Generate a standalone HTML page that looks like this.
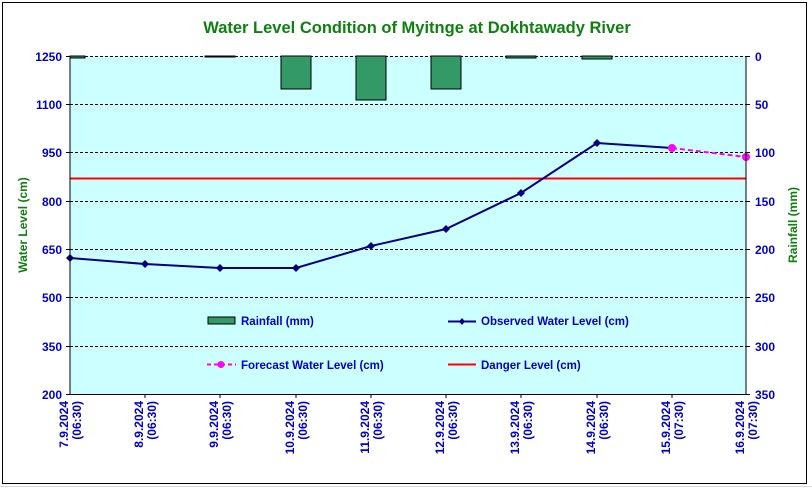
<!DOCTYPE html>
<html><head><meta charset="utf-8"><style>body{margin:0;background:#fff}svg{display:block}text{font-family:"Liberation Sans",Arial,sans-serif;font-weight:bold}</style></head><body>
<svg width="812" height="490" viewBox="0 0 812 490" xmlns="http://www.w3.org/2000/svg">
<g stroke="#d8d8d8" stroke-width="1">
<line x1="0" y1="486.5" x2="812" y2="486.5"/>
</g>
<rect x="2.5" y="2.5" width="804" height="481" fill="#fff" stroke="#000" stroke-width="1"/>
<text x="417" y="33" font-size="16.5" fill="#108010" text-anchor="middle">Water Level Condition of Myitnge at Dokhtawady River</text>
<rect x="70" y="56" width="676" height="338" fill="#ccffff"/>
<g stroke="#000" stroke-dasharray="3,2" stroke-width="1">
<line x1="70" y1="56.5" x2="746" y2="56.5"/>
<line x1="70" y1="104.5" x2="746" y2="104.5"/>
<line x1="70" y1="152.5" x2="746" y2="152.5"/>
<line x1="70" y1="201.5" x2="746" y2="201.5"/>
<line x1="70" y1="249.5" x2="746" y2="249.5"/>
<line x1="70" y1="297.5" x2="746" y2="297.5"/>
<line x1="70" y1="346.5" x2="746" y2="346.5"/>
</g>
<g fill="#339966" stroke="#000" stroke-width="1">
<rect x="70" y="56" width="15" height="2"/>
<rect x="205" y="56" width="30" height="1"/>
<rect x="281" y="56" width="30" height="33"/>
<rect x="356" y="56" width="30" height="44"/>
<rect x="431" y="56" width="30" height="33"/>
<rect x="506" y="56" width="30" height="2"/>
<rect x="582" y="56" width="30" height="3"/>
</g>
<line x1="70" y1="178.5" x2="746" y2="178.5" stroke="#ff0000" stroke-width="2"/>
<polyline points="70,258 145,264 220,268 296,268 371,246 446,229 521,193 597,143 672,148" fill="none" stroke="#000080" stroke-width="2"/>
<g fill="#000080">
<path d="M70,254l4,4-4,4-4-4z"/><path d="M145,260l4,4-4,4-4-4z"/><path d="M220,264l4,4-4,4-4-4z"/><path d="M296,264l4,4-4,4-4-4z"/><path d="M371,242l4,4-4,4-4-4z"/><path d="M446,225l4,4-4,4-4-4z"/><path d="M521,189l4,4-4,4-4-4z"/><path d="M597,139l4,4-4,4-4-4z"/>
</g>
<line x1="672" y1="148" x2="746" y2="157" stroke="#ff00ff" stroke-width="2" stroke-dasharray="5,3"/>
<circle cx="672" cy="148" r="4" fill="#ff00ff"/><circle cx="746" cy="157" r="4" fill="#ff00ff"/>
<line x1="70" y1="56" x2="70" y2="394" stroke="#000"/>
<line x1="746" y1="56" x2="746" y2="394" stroke="#000"/>
<line x1="70" y1="394.5" x2="746" y2="394.5" stroke="#000"/>
<g stroke="#000">
<line x1="66" y1="56.5" x2="70" y2="56.5"/><line x1="66" y1="104.5" x2="70" y2="104.5"/><line x1="66" y1="152.5" x2="70" y2="152.5"/><line x1="66" y1="201.5" x2="70" y2="201.5"/><line x1="66" y1="249.5" x2="70" y2="249.5"/><line x1="66" y1="297.5" x2="70" y2="297.5"/><line x1="66" y1="346.5" x2="70" y2="346.5"/><line x1="66" y1="394.5" x2="70" y2="394.5"/>
<line x1="746" y1="56.5" x2="750" y2="56.5"/><line x1="746" y1="104.5" x2="750" y2="104.5"/><line x1="746" y1="152.5" x2="750" y2="152.5"/><line x1="746" y1="201.5" x2="750" y2="201.5"/><line x1="746" y1="249.5" x2="750" y2="249.5"/><line x1="746" y1="297.5" x2="750" y2="297.5"/><line x1="746" y1="346.5" x2="750" y2="346.5"/><line x1="746" y1="394.5" x2="750" y2="394.5"/>
<line x1="145" y1="394" x2="145" y2="398"/><line x1="220" y1="394" x2="220" y2="398"/><line x1="296" y1="394" x2="296" y2="398"/><line x1="371" y1="394" x2="371" y2="398"/><line x1="446" y1="394" x2="446" y2="398"/><line x1="521" y1="394" x2="521" y2="398"/><line x1="597" y1="394" x2="597" y2="398"/><line x1="672" y1="394" x2="672" y2="398"/>
</g>
<g font-size="12" fill="#0000cc" text-anchor="end">
<text x="62" y="61">1250</text><text x="62" y="109">1100</text><text x="62" y="157">950</text><text x="62" y="206">800</text><text x="62" y="254">650</text><text x="62" y="302">500</text><text x="62" y="351">350</text><text x="62" y="399">200</text>
</g>
<g font-size="12" fill="#0000cc">
<text x="755" y="61">0</text><text x="755" y="109">50</text><text x="755" y="157">100</text><text x="755" y="206">150</text><text x="755" y="254">200</text><text x="755" y="302">250</text><text x="755" y="351">300</text><text x="755" y="399">350</text>
</g>
<text transform="translate(27,225) rotate(-90)" font-size="12" fill="#108010" text-anchor="middle">Water Level (cm)</text>
<text transform="translate(797,225) rotate(-90)" font-size="12" fill="#108010" text-anchor="middle">Rainfall (mm)</text>
<g font-size="12" fill="#0000cc" text-anchor="end">
<g transform="translate(70,401) rotate(-90)"><text x="0" y="-2">7.9.2024</text><text x="0" y="11">(06:30)</text></g>
<g transform="translate(145,401) rotate(-90)"><text x="0" y="-2">8.9.2024</text><text x="0" y="11">(06:30)</text></g>
<g transform="translate(220,401) rotate(-90)"><text x="0" y="-2">9.9.2024</text><text x="0" y="11">(06:30)</text></g>
<g transform="translate(296,401) rotate(-90)"><text x="0" y="-2">10.9.2024</text><text x="0" y="11">(06:30)</text></g>
<g transform="translate(371,401) rotate(-90)"><text x="0" y="-2">11.9.2024</text><text x="0" y="11">(06:30)</text></g>
<g transform="translate(446,401) rotate(-90)"><text x="0" y="-2">12.9.2024</text><text x="0" y="11">(06:30)</text></g>
<g transform="translate(521,401) rotate(-90)"><text x="0" y="-2">13.9.2024</text><text x="0" y="11">(06:30)</text></g>
<g transform="translate(597,401) rotate(-90)"><text x="0" y="-2">14.9.2024</text><text x="0" y="11">(06:30)</text></g>
<g transform="translate(672,401) rotate(-90)"><text x="0" y="-2">15.9.2024</text><text x="0" y="11">(07:30)</text></g>
<g transform="translate(746,401) rotate(-90)"><text x="0" y="-2">16.9.2024</text><text x="0" y="11">(07:30)</text></g>
</g>
<rect x="208" y="317" width="27" height="7" fill="#339966" stroke="#000"/>
<line x1="448" y1="321.5" x2="476" y2="321.5" stroke="#000080" stroke-width="2"/>
<path d="M462,318l3,3.5-3,3.5-3-3.5z" fill="#000080"/>
<line x1="207" y1="364.5" x2="236" y2="364.5" stroke="#ff00ff" stroke-width="2" stroke-dasharray="4,3"/>
<circle cx="221" cy="364.5" r="3.5" fill="#ff00ff"/>
<line x1="448" y1="364.5" x2="476" y2="364.5" stroke="#ff0000" stroke-width="2"/>
<g font-size="11.5" fill="#0000cc">
<text x="241" y="325">Rainfall (mm)</text>
<text x="481" y="325">Observed Water Level (cm)</text>
<text x="241" y="369">Forecast Water Level (cm)</text>
<text x="481" y="369">Danger Level (cm)</text>
</g>
</svg>
</body></html>
